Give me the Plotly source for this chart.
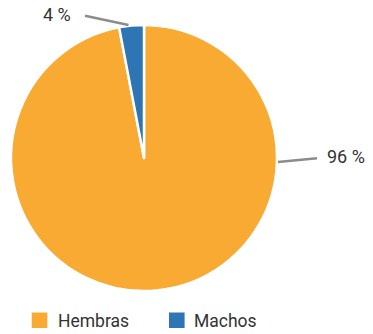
import plotly.graph_objects as go

categories = ["Hembras", "Machos"]
values = [97, 3]
text_labels = ["96 %", "4 %"]
colors = ["#F9AA33", "#2E75B6"]

W, H = 373, 334
ML, MR, MT, MB = 11, 96, 25, 43
PW, PH = W - ML - MR, H - MT - MB


def px(x):
    return (x - ML) / PW


def py(y):
    return 1 - (y - MT) / PH


font_fam = "Roboto, Noto Sans, sans-serif"
text_color = "#333333"
line_color = "#8C8C8C"

fig = go.Figure(go.Pie(
    labels=categories,
    values=values,
    marker=dict(colors=colors, line=dict(color="white", width=2.5)),
    sort=False,
    direction="clockwise",
    rotation=0,
    textinfo="none",
    hoverinfo="label+percent",
    showlegend=False,
))

# leader lines and labels
label_layout = [
    # (line start, line end, text left x, text center y)
    ((278, 162), (317, 158.3), 326, 156.5),
    ((128.5, 25), (85, 15.7), 42, 14),
]
for lab, ((x0, y0), (x1, y1), tx, ty) in zip(text_labels, label_layout):
    fig.add_shape(type="line", xref="paper", yref="paper",
                  x0=px(x0), y0=py(y0), x1=px(x1), y1=py(y1),
                  line=dict(color=line_color, width=2.5))
    fig.add_annotation(x=px(tx), y=py(ty), xref="paper", yref="paper",
                       xanchor="left", yanchor="middle", showarrow=False,
                       borderpad=0, text=lab,
                       font=dict(size=18, color=text_color, family=font_fam))

# manual legend
legend_items = [(31.7, 56.5), (169, 193)]
for cat, col, (sx, tx) in zip(categories, colors, legend_items):
    fig.add_shape(type="rect", xref="paper", yref="paper",
                  x0=px(sx), x1=px(sx + 15.6), y0=py(312.5), y1=py(328),
                  fillcolor=col, line=dict(width=0))
    fig.add_annotation(x=px(tx), y=py(320.5), xref="paper", yref="paper",
                       xanchor="left", yanchor="middle", showarrow=False,
                       borderpad=0, text=cat,
                       font=dict(size=17.5, color=text_color, family=font_fam))

fig.update_layout(
    width=W, height=H,
    margin=dict(l=ML, r=MR, t=MT, b=MB),
    paper_bgcolor="white", plot_bgcolor="white",
    font=dict(family=font_fam, color=text_color, size=16),
    showlegend=False,
)

fig.write_html("out.html",
               config={"displayModeBar": False},
               post_script="document.body.style.margin='0';document.body.style.overflow='hidden';")
